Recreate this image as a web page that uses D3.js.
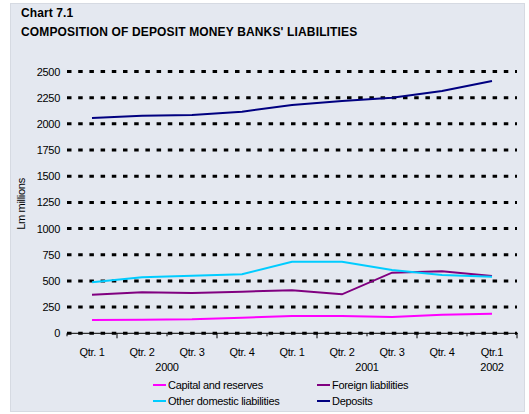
<!DOCTYPE html>
<html><head><meta charset="utf-8">
<script src="https://cdn.jsdelivr.net/npm/d3@7"></script>
<style>
body{margin:0;background:#fff;}
text{font-family:"Liberation Sans",Arial,sans-serif;fill:#000;}
</style></head>
<body>
<svg id="c" width="529" height="414"></svg>
<script>
const quarters = ["Qtr. 1","Qtr. 2","Qtr. 3","Qtr. 4","Qtr. 1","Qtr. 2","Qtr. 3","Qtr. 4","Qtr.1"];
const years = [{label:"2000", from:0, to:3},{label:"2001", from:4, to:7},{label:"2002", from:8, to:8}];
const yTicks = [0,250,500,750,1000,1250,1500,1750,2000,2250,2500];
const capital = [127,130,134,149,165,165,156,178,187];
const foreign = [369,392,385,397,411,372,579,592,547];
const otherDomestic = [487,535,550,563,684,684,605,557,541];
const deposits = [2056,2078,2085,2116,2180,2219,2250,2314,2410];
const series = [
  {name:"Capital and reserves", values:capital, color:"#ff00ff"},
  {name:"Foreign liabilities", values:foreign, color:"#800080"},
  {name:"Other domestic liabilities", values:otherDomestic, color:"#00ccff"},
  {name:"Deposits", values:deposits, color:"#000080"}
];

const svg = d3.select("#c");
svg.append("rect").attr("x",10.5).attr("y",3.5).attr("width",514).attr("height",408)
  .attr("fill","#e4e8f0").attr("stroke","#d6dae2");

svg.append("text").attr("x",21).attr("y",17).attr("font-size",12).attr("font-weight","bold")
  .attr("letter-spacing",0.1).text("Chart 7.1");
svg.append("text").attr("x",21).attr("y",36).attr("font-size",12).attr("font-weight","bold")
  .attr("letter-spacing",0.15).text("COMPOSITION OF DEPOSIT MONEY BANKS' LIABILITIES");

const x0 = 67, x1 = 517, yBottom = 333.3, yTop = 71.5;
const x = d3.scaleBand().domain(d3.range(quarters.length)).range([x0,x1]);
const y = d3.scaleLinear().domain([0,2500]).range([yBottom,yTop]);

// gridlines
svg.append("g").selectAll("line").data(yTicks).join("line")
  .attr("x1",x0).attr("x2",x1).attr("y1",d=>y(d)).attr("y2",d=>y(d))
  .attr("stroke","#000").attr("stroke-width",3).attr("stroke-dasharray","4.5,6.7");

// y axis labels
const yAxis = d3.axisLeft(y).tickValues(yTicks).tickFormat(d3.format("d")).tickSize(0).tickPadding(7);
const ga = svg.append("g").attr("transform",`translate(${x0},0)`).call(yAxis);
ga.select(".domain").remove();
ga.selectAll("text").attr("font-size",11).attr("letter-spacing",-0.3)
  .style("font-family","'Liberation Sans',Arial,sans-serif").attr("fill","#000");

// x axis
svg.append("line").attr("x1",x0).attr("x2",x1+1).attr("y1",yBottom).attr("y2",yBottom)
  .attr("stroke","#000").attr("stroke-width",1);
const bounds = d3.range(quarters.length+1);
svg.append("g").selectAll("line").data(bounds).join("line")
  .attr("x1",i=>x0+i*x.step()).attr("x2",i=>x0+i*x.step())
  .attr("y1",yBottom).attr("y2",i=>yBottom+(i%2===1||i===quarters.length?5:3))
  .attr("stroke","#000").attr("stroke-width",1);
svg.append("g").selectAll("text").data(quarters).join("text")
  .attr("x",(d,i)=>x(i)+x.bandwidth()/2).attr("y",356)
  .attr("text-anchor","middle").attr("font-size",11).attr("letter-spacing",-0.3).text(d=>d);
svg.append("g").selectAll("text").data(years).join("text")
  .attr("x",d=>(x(d.from)+x(d.to)+x.bandwidth())/2).attr("y",371)
  .attr("text-anchor","middle").attr("font-size",11).attr("letter-spacing",-0.3).text(d=>d.label);

// y label
svg.append("text").attr("transform","translate(25,204) rotate(-90)")
  .attr("text-anchor","middle").attr("font-size",11).attr("letter-spacing",-0.3).text("Lm millions");

// lines
const line = d3.line().x((d,i)=>x(i)+x.bandwidth()/2).y(d=>y(d));
svg.append("g").selectAll("path").data(series).join("path")
  .attr("d",d=>line(d.values)).attr("fill","none").attr("stroke",d=>d.color).attr("stroke-width",2);

// legend
const legPos = [[153,385],[317,385],[153,401],[317,401]];
const lg = svg.append("g").selectAll("g").data(series).join("g")
  .attr("transform",(d,i)=>`translate(${legPos[i][0]},${legPos[i][1]})`);
lg.append("line").attr("x1",0).attr("x2",13).attr("y1",0).attr("y2",0)
  .attr("stroke",d=>d.color).attr("stroke-width",2);
lg.append("text").attr("x",15).attr("y",4).attr("font-size",11).attr("letter-spacing",-0.3).text(d=>d.name);
</script>
</body></html>
